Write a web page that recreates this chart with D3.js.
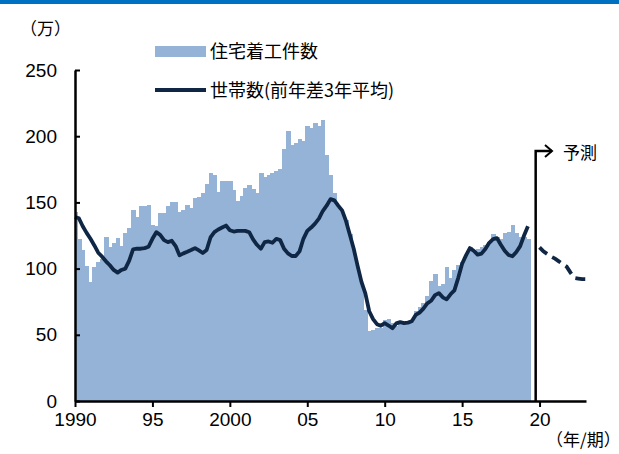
<!DOCTYPE html>
<html>
<head>
<meta charset="utf-8">
<script src="https://cdn.jsdelivr.net/npm/d3@7"></script>
<style>
  body { margin: 0; background: #fff; }
  text { font-family: "Liberation Sans Narrow", "Noto Sans CJK JP", sans-serif; }
  .jp { font-family: "Noto Sans CJK JP", sans-serif; }
</style>
</head>
<body>
<script>
// quarterly, 1990Q1 - 2019Q2
var startYear = 1990;
var starts = [143,122,114,102,90,101,105,107,124,116,119,123,117,127,131,144,139,147,147,148,133,
  132,142,142,147,150,150,142.5,144,148,146,153,154,157,164,172,171,158,166,166,166,
  159,151,155,161,163,160,157,172,169,171,172,174,175,190,204,193,195,198,196,208,
  206,210,208,212,186,171,157,146,142,137,126,112,101,89,69,53,54,55,55,61,
  62,59,57,58,60,60,60,68,71,74,79,91,96,87,88,101,93,99,103,105,
  110,116,114,115,116,118,120,126,124,122,127,128,133,127,124,124,122];
var households = [139,138,132,127,122.5,117.5,112,109,105.5,102.5,99,97,99,100,106,114.5,115,115,115.5,116.5,122.5,
  127.5,125.5,121.5,120,121,117,110,111.5,112.7,114,115.5,113.7,111.8,114,123.5,127.5,129.5,131,132.5,129,
  128,128.5,128.5,128.5,127.5,122,118,115,120,120.5,119.5,122.5,121.5,115,111.5,109.5,109.5,113,122.5,128.5,
  131,134,137.7,143.5,147.5,152.5,151.5,147.5,144,136,125.5,115,102,90,81.3,67.8,61.8,58,56.8,58.8,
  57,55,58.6,59.6,58.8,59.2,60.2,65,66.8,69.8,73.8,75.7,80,81.5,78.3,76.8,80.6,83.6,93,103.7,
  110,115.5,113.5,110.5,111.3,114.8,119.5,122.2,123,118,113.5,110.3,109.3,112.5,117,125,132];
var forecastYears = [2020, 2020.25, 2020.5, 2020.75, 2021, 2021.25, 2021.5, 2021.75, 2022, 2022.25, 2022.5, 2022.75, 2023];
var forecast = [116, 113, 111, 109, 107.5, 105.5, 103.5, 101.5, 97, 93, 92.5, 92, 92];
var tickYears = [1990, 1995, 2000, 2005, 2010, 2015, 2020];
var tickLabels = ["1990", "95", "2000", "05", "10", "15", "20"];
var yTicks = [0, 50, 100, 150, 200, 250];
var legendNames = ["住宅着工件数", "世帯数(前年差3年平均)"];
var forecastStart = 2019.75;

var width = 619, height = 454;
var plotL = 75, plotR = 586, plotT = 70, plotB = 401;

var svg = d3.select("body").append("svg")
    .attr("width", width)
    .attr("height", height);

svg.append("rect")
    .attr("x", 0).attr("y", 0)
    .attr("width", width).attr("height", 4)
    .attr("fill", "#0070c0");

var x = d3.scaleLinear().domain([1990, 2023]).range([plotL, plotR]);
var y = d3.scaleLinear().domain([0, 250]).range([plotB, plotT]);
var q = x(startYear + 0.25) - x(startYear);

svg.append("clipPath").attr("id", "clip")
  .append("rect")
    .attr("x", plotL).attr("y", 0)
    .attr("width", plotR - plotL).attr("height", plotB);

svg.append("g")
    .attr("clip-path", "url(#clip)")
    .attr("shape-rendering", "crispEdges")
  .selectAll("rect")
    .data(starts)
  .enter().append("rect")
    .attr("x", function(d, i) { return x(startYear + i / 4) - q / 2; })
    .attr("y", function(d) { return y(d); })
    .attr("width", q + 0.8)
    .attr("height", function(d) { return y(0) - y(d); })
    .attr("fill", "#95b3d7");

var line = d3.line()
    .x(function(d) { return x(d[0]); })
    .y(function(d) { return y(d[1]); });

svg.append("path")
    .datum(households.map(function(v, i) { return [startYear + i / 4, v]; }))
    .attr("d", line)
    .attr("fill", "none")
    .attr("stroke", "#0f2744")
    .attr("stroke-width", 3.8)
    .attr("stroke-linejoin", "round");

svg.append("path")
    .datum(forecast.map(function(v, i) { return [forecastYears[i], v]; }))
    .attr("d", line)
    .attr("fill", "none")
    .attr("stroke", "#0f2744")
    .attr("stroke-width", 3.8)
    .attr("stroke-dasharray", "10,6");

// axes
var yAxis = svg.append("g")
    .attr("transform", "translate(" + plotL + ",0)")
    .call(d3.axisLeft(y).tickValues(yTicks).tickSizeInner(-5).tickSizeOuter(0).tickPadding(18));
var xAxis = svg.append("g")
    .attr("transform", "translate(0," + plotB + ")")
    .call(d3.axisBottom(x).tickValues(tickYears).tickSize(6).tickSizeOuter(0).tickPadding(6)
      .tickFormat(function(d, i) { return tickLabels[i]; }));
[xAxis, yAxis].forEach(function(g) {
  g.select(".domain").attr("stroke", "#000").attr("stroke-width", 2.5);
  g.selectAll(".tick line").attr("stroke", "#000").attr("stroke-width", 2);
  g.selectAll(".tick text").attr("font-size", 19).attr("fill", "#000")
    .style("font-family", "'Liberation Sans Narrow', sans-serif");
});

// forecast marker
var fx = x(forecastStart);
svg.append("path")
    .attr("d", "M" + fx + "," + plotB + "V151H552")
    .attr("fill", "none").attr("stroke", "#000").attr("stroke-width", 2.5);
svg.append("path")
    .attr("d", "M545,145L552,151L545,157")
    .attr("fill", "none").attr("stroke", "#000").attr("stroke-width", 2);
svg.append("text").attr("class", "jp")
    .attr("x", 563).attr("y", 159)
    .attr("font-size", 17)
    .text("予測");

// units
svg.append("text").attr("class", "jp")
    .attr("x", 20).attr("y", 35)
    .attr("font-size", 17)
    .text("（万）");
svg.append("text").attr("class", "jp")
    .attr("x", 546).attr("y", 446)
    .attr("font-size", 17)
    .text("（年/期）");

// legend
var legend = svg.append("g");
legend.append("rect")
    .attr("x", 155).attr("y", 46).attr("width", 51).attr("height", 11)
    .attr("fill", "#95b3d7");
legend.append("line")
    .attr("x1", 155).attr("x2", 206).attr("y1", 90).attr("y2", 90)
    .attr("stroke", "#0f2744").attr("stroke-width", 3.8);
legend.selectAll(".lt")
    .data(legendNames)
  .enter().append("text")
    .attr("class", "jp")
    .attr("x", 210)
    .attr("y", function(d, i) { return 58 + i * 39; })
    .attr("font-size", 18)
    .text(function(d) { return d; });
</script>
</body>
</html>
